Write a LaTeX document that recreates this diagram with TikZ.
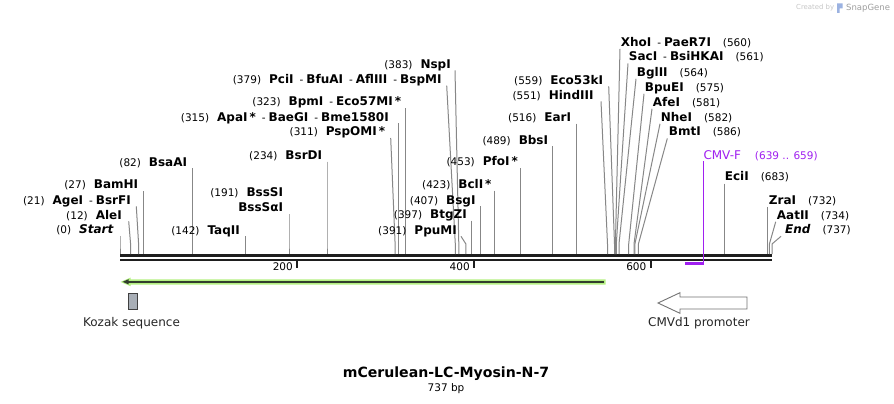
\documentclass[tikz,border=0pt]{standalone}
\usepackage{fontspec}
\setmainfont{DejaVu Sans}[BoldFont={DejaVu Sans Bold},ItalicFont={DejaVu Sans Oblique},BoldItalicFont={DejaVu Sans Bold Oblique}]
\usetikzlibrary{calc}
\definecolor{primer}{RGB}{160,32,240}
\definecolor{halo}{RGB}{180,240,130}
\definecolor{orfdark}{RGB}{50,62,45}
\definecolor{sitegray}{RGB}{135,135,135}
\definecolor{bb}{RGB}{30,30,30}
\definecolor{kozak}{RGB}{168,174,182}
\newcommand\Enz[1]{{\fontsize{12}{14}\selectfont\bfseries #1}}
\newcommand\Dsh{\hspace{6pt}-\hspace{3pt}}
\tikzset{
  lab/.style={font=\fontsize{10.5}{12}\selectfont, inner sep=0pt, text=black},
  site/.style={draw=sitegray, line width=1pt},
  featlab/.style={font=\fontsize{12}{14}\selectfont, inner sep=0pt, text=black!85},
  ticklab/.style={font=\fontsize{10.5}{12}\selectfont, inner sep=0pt, anchor=east},
  tickmark/.style={draw=bb, line width=2pt}
}
% left label: id, text right x, centre y, anchor x, site x, text
\newcommand\LSite[6]{%
  \node[lab, anchor=base east] (#1) at (#2, #3+4.2) {#6};
  \coordinate (#1a) at (#4, #3+6.3);
  \coordinate (#1k) at (#5, 244);
  \coordinate (#1s) at (#5, 254);
  \draw[site] (#1a) -- (#1k) -- (#1s);
}
% right label: id, text left x, centre y, anchor x, site x, text
\newcommand\RSite[6]{%
  \node[lab, anchor=base west] (#1) at (#2, #3+4.2) {#6};
  \coordinate (#1a) at (#4, #3+6.8);
  \coordinate (#1k) at (#5, 244);
  \coordinate (#1s) at (#5, 254);
  \draw[site] (#1a) -- (#1k) -- (#1s);
}
\begin{document}
\begin{tikzpicture}[x=1pt, y=-1pt]
\useasboundingbox (0,0) rectangle (894,404);
\fill[white] (0,0) rectangle (894,404);

% watermark
\node[font=\fontsize{6.9}{8}\selectfont, text=black!22, inner sep=0, anchor=west] (wm1) at (796,8) {Created by};
\fill[cyan!45!blue!40] (837,3.5) rectangle (839.5,13) (839.5,3.5) rectangle (842.5,8.5);
\node[font=\fontsize{8.5}{10}\selectfont, text=black!38, inner sep=0, anchor=west] (wm2) at (846,8) {SnapGene};

% backbone
\coordinate (bbL) at (120,254);
\coordinate (bbR) at (772,261);
\fill[bb] (120,254) rectangle (772,257.3);
\fill[bb] (120,258.6) rectangle (772,261);

% ticks
\coordinate (t200) at (297,260.5);
\coordinate (t400) at (473.9,260.5);
\coordinate (t600) at (650.5,260.5);
\draw[tickmark] (t200) -- ++(0,7.5);
\draw[tickmark] (t400) -- ++(0,7.5);
\draw[tickmark] (t600) -- ++(0,7.5);
\node[ticklab] (l200) at (293,266.5) {200};
\node[ticklab] (l400) at (469.9,266.5) {400};
\node[ticklab] (l600) at (646.5,266.5) {600};

% left-side sites
\LSite{start}{113.5}{229.5}{120}{120}{(0)\hspace{8pt}\Enz{\itshape Start}}
\LSite{alei}{122}{215}{128.7}{130.6}{(12)\hspace{8pt}\Enz{AleI}}
\LSite{agei}{131}{200}{136.3}{138.6}{(21)\hspace{8pt}\Enz{AgeI}\Dsh\Enz{BsrFI}}
\LSite{bamhi}{138.4}{184.7}{143.9}{143.9}{(27)\hspace{8pt}\Enz{BamHI}}
\LSite{bsaai}{187.3}{162}{192.5}{192.5}{(82)\hspace{8pt}\Enz{BsaAI}}
\LSite{taqii}{240}{230}{245.6}{245.6}{(142)\hspace{8pt}\Enz{TaqII}}
\node[lab, anchor=base east] (bsssi) at (283.3, 192.3+4.2) {(191)\hspace{8pt}\Enz{BssSI}};
\LSite{bsssai}{283.3}{207.7}{289}{289}{\Enz{BssSαI}}
\LSite{bsrdi}{322.3}{155.3}{327}{327}{(234)\hspace{8pt}\Enz{BsrDI}}
\LSite{pspomi}{385.3}{131.7}{390.7}{395.1}{(311)\hspace{8pt}\Enz{PspOMI\,*}}
\LSite{apai}{389}{117}{398.7}{398.7}{(315)\hspace{8pt}\Enz{ApaI\,*}\Dsh\Enz{BaeGI}\Dsh\Enz{Bme1580I}}
\LSite{bpmi}{401.3}{101.7}{405.8}{405.8}{(323)\hspace{8pt}\Enz{BpmI}\Dsh\Enz{Eco57MI\,*}}
\LSite{pcii}{441.7}{79.3}{446.7}{455.3}{(379)\hspace{8pt}\Enz{PciI}\Dsh\Enz{BfuAI}\Dsh\Enz{AflIII}\Dsh\Enz{BspMI}}
\LSite{nspi}{451}{64}{455}{458.8}{(383)\hspace{8pt}\Enz{NspI}}
\LSite{ppumi}{457}{230}{461}{465.9}{(391)\hspace{8pt}\Enz{PpuMI}}
\LSite{btgzi}{467}{214.3}{471.2}{471.2}{(397)\hspace{8pt}\Enz{BtgZI}}
\LSite{bsgi}{475.7}{200}{480.1}{480.1}{(407)\hspace{8pt}\Enz{BsgI}}
\LSite{bcli}{491.7}{184.3}{494.2}{494.2}{(423)\hspace{8pt}\Enz{BclI\,*}}
\LSite{pfoi}{518}{161.7}{520.8}{520.8}{(453)\hspace{8pt}\Enz{PfoI\,*}}
\LSite{bbsi}{548.3}{140}{552.6}{552.6}{(489)\hspace{8pt}\Enz{BbsI}}
\LSite{eari}{571.3}{117.3}{576.5}{576.5}{(516)\hspace{8pt}\Enz{EarI}}
\LSite{hindiii}{593.7}{95}{601}{607.5}{(551)\hspace{8pt}\Enz{HindIII}}
\LSite{ecoks}{603.3}{80}{608.7}{614.5}{(559)\hspace{8pt}\Enz{Eco53kI}}

% right-side sites
\RSite{xhoi}{620.7}{42}{620}{615.4}{\Enz{XhoI}\Dsh\Enz{PaeR7I}\hspace{12pt}(560)}
\RSite{saci}{628.7}{56.7}{628}{616.3}{\Enz{SacI}\Dsh\Enz{BsiHKAI}\hspace{12pt}(561)}
\RSite{bglii}{636.7}{72}{636}{619}{\Enz{BglII}\hspace{12pt}(564)}
\RSite{bpuei}{644.7}{87}{644}{628.7}{\Enz{BpuEI}\hspace{12pt}(575)}
\RSite{afei}{652.7}{102}{652}{634}{\Enz{AfeI}\hspace{12pt}(581)}
\RSite{nhei}{660.7}{117}{660}{634.9}{\Enz{NheI}\hspace{12pt}(582)}
\RSite{bmti}{668.7}{131.7}{667.3}{638.4}{\Enz{BmtI}\hspace{12pt}(586)}
\RSite{ecii}{724.7}{176.7}{724.2}{724.2}{\Enz{EciI}\hspace{12pt}(683)}
\RSite{zrai}{768.7}{200}{767.6}{767.6}{\Enz{ZraI}\hspace{12pt}(732)}
\RSite{aatii}{776.7}{215}{775.7}{769.4}{\Enz{AatII}\hspace{12pt}(734)}
\RSite{endl}{785}{229.5}{781}{772}{\Enz{\itshape End}\hspace{12pt}(737)}

% primer CMV-F
\node[font=\fontsize{12}{14}\selectfont, text=primer, inner sep=0pt, anchor=base west] (cmvf) at (703.3,155+4.3) {CMV-F\hspace{14pt}{\fontsize{10.5}{12}\selectfont(639 .. 659)}};
\coordinate (cmvfa) at (703.3,161);
\coordinate (cmvfe) at (703.3,264.5);
\coordinate (cmvfs) at (685,263.7);
\coordinate (cmvft) at (703.3,263.7);
\draw[primer, line width=1.3pt] (cmvfa) -- (cmvfe);
\draw[primer, line width=2.6pt] (cmvfs) -- (cmvft);

% ORF arrow with highlight
\fill[halo] (605.7,279.3) -- (130.5,279.3) -- (130.5,277.6) -- (120.5,281.9) -- (130.5,286.2) -- (130.5,284.5) -- (605.7,284.5) -- cycle;
\coordinate (orfS) at (604,281.8);
\coordinate (orfE) at (128,281.8);
\draw[orfdark, line width=2.4pt] (orfS) -- (orfE);
\fill[orfdark] (122.6,281.8) -- (128.5,279.2) -- (128.5,284.4) -- cycle;

% Kozak sequence
\node[draw=black!75, fill=kozak, line width=0.9pt, minimum width=9.4pt, minimum height=16pt, inner sep=0pt] (kozbox) at (133,301.3) {};
\node[featlab] (kozlab) at (131.5,323) {Kozak sequence};

% CMVd1 promoter
\draw[draw=black!55, fill=white, line width=0.9pt] (658,303) -- (680,292.7) -- (680,297) -- (747,297) -- (747,309) -- (680,309) -- (680,313.3) -- cycle;
\coordinate (cmvprom) at (702.5,303);
\node[featlab] (cmvlab) at (699,323) {CMVd1 promoter};

% title
\node[font=\fontsize{14.1}{16}\selectfont\bfseries, inner sep=0pt] (title) at (446,373.3) {mCerulean-LC-Myosin-N-7};
\node[font=\fontsize{10.5}{12}\selectfont, inner sep=0pt] (bp) at (446,389) {737 bp};
\end{tikzpicture}
\end{document}
